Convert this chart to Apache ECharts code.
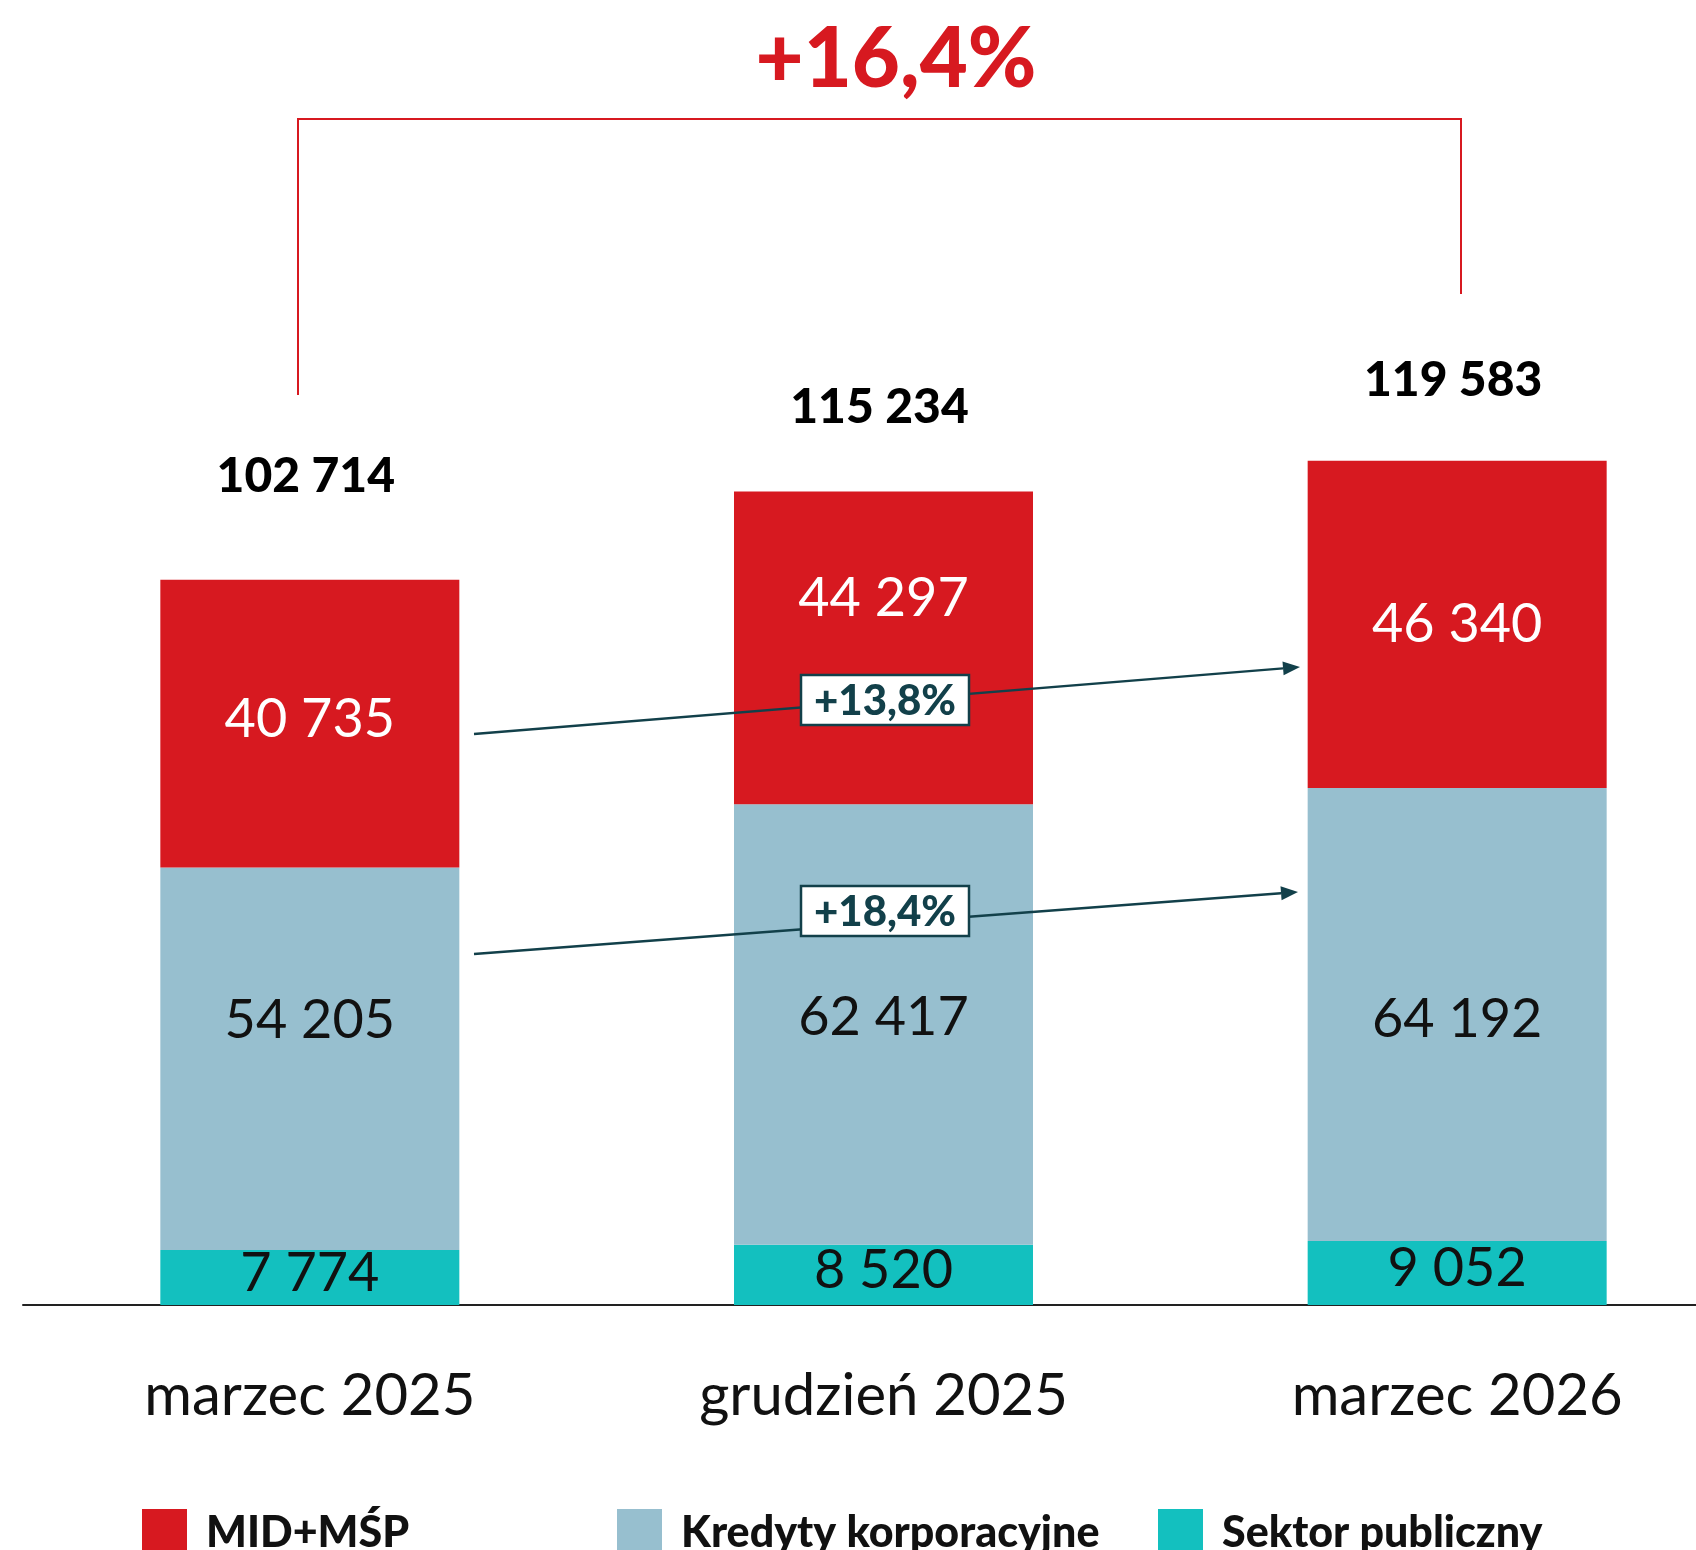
<!DOCTYPE html>
<html>
<head>
<meta charset="utf-8">
<script src="https://cdn.jsdelivr.net/npm/echarts@6/dist/echarts.min.js"></script>
<style>
  html, body { margin: 0; padding: 0; background: #fff; }
  #chart { width: 1696px; height: 1550px; }
</style>
</head>
<body>
<div id="chart"></div>
<script>
const categories = ['marzec 2025', 'grudzień 2025', 'marzec 2026']
const midMsp = [40735, 44297, 46340]
const kredytyKorp = [54205, 62417, 64192]
const sektorPubl = [7774, 8520, 9052]
const totals = [102714, 115234, 119583]
const seriesNames = ['MID+MŚP', 'Kredyty korporacyjne', 'Sektor publiczny']
const totalGrowth = '+16,4%'
const midGrowth = '+13,8%'
const korpGrowth = '+18,4%'

const RED = '#d71920'
const BLUE = '#97bfcf'
const TEAL = '#13c0bf'
const DARK = '#12404a'
const FONT = 'Lato, "Noto Sans", sans-serif'

const fmt = (n) => String(n).replace(/\B(?=(\d{3})+(?!\d))/g, ' ')

// label nudges (px) so texts sit where the original has them
const totalLift = [79, 60, 56]
const redShift = [-4, -49, 0]
const blueShift = [-38, -7, 5]

const chart = echarts.init(document.getElementById('chart'))

const arrow = (x1, y1, x2, y2) => {
  const dx = x2 - x1, dy = y2 - y1
  const len = Math.sqrt(dx * dx + dy * dy)
  const ux = dx / len, uy = dy / len
  const hl = 17, hw = 7
  const bx = x2 - ux * hl, by = y2 - uy * hl
  return [
    {
      type: 'line',
      shape: { x1, y1, x2: bx, y2: by },
      style: { stroke: DARK, lineWidth: 2.5 },
      z: 10
    },
    {
      type: 'polygon',
      shape: { points: [[x2, y2], [bx - uy * hw, by + ux * hw], [bx + uy * hw, by - ux * hw]] },
      style: { fill: DARK },
      z: 10
    }
  ]
}

const box = (cx, cy, text) => ({
  type: 'group',
  z: 20,
  children: [
    {
      type: 'rect',
      shape: { x: cx - 84, y: cy - 25, width: 168, height: 50 },
      style: { fill: '#fff', stroke: DARK, lineWidth: 2.5 },
      z: 20
    },
    {
      type: 'text',
      x: cx, y: cy + 1,
      style: { text, fill: DARK, font: `900 42px ${FONT}`, align: 'center', verticalAlign: 'middle' },
      z: 21
    }
  ]
})

const segLabel = (color) => ({
  show: true,
  position: 'inside',
  color,
  fontFamily: FONT,
  fontSize: 54,
  textBorderWidth: 0,
  formatter: (p) => fmt(p.value)
})

const option = {
  animation: false,
  backgroundColor: '#fff',
  grid: { left: 23, right: -48, top: 246, bottom: 245, outerBoundsMode: 'none', containLabel: false },
  xAxis: {
    type: 'category',
    data: categories,
    axisLine: { show: true, lineStyle: { color: '#222', width: 2 } },
    axisTick: { show: false },
    axisLabel: { color: '#111', fontFamily: FONT, fontSize: 58, margin: 62 }
  },
  yAxis: { type: 'value', min: 0, max: 150000, show: false },
  legend: seriesNames.map((name, i) => ({
    data: [name],
    left: [137, 612, 1153][i],
    top: 1504,
    icon: 'rect',
    itemWidth: 45,
    itemHeight: 48,
    selectedMode: false,
    textStyle: { fontFamily: FONT, fontSize: 43, fontWeight: 900, color: '#111', padding: [0, 0, 0, 14] }
  })),
  series: [
    {
      name: seriesNames[2],
      type: 'bar',
      stack: 'total',
      barWidth: 299,
      itemStyle: { color: TEAL },
      label: { ...segLabel('#111'), offset: [0, -4] },
      data: sektorPubl
    },
    {
      name: seriesNames[1],
      type: 'bar',
      stack: 'total',
      barWidth: 299,
      itemStyle: { color: BLUE },
      label: segLabel('#111'),
      data: kredytyKorp.map((v, i) => ({ value: v, label: { offset: [0, blueShift[i]] } }))
    },
    {
      name: seriesNames[0],
      type: 'bar',
      stack: 'total',
      barWidth: 299,
      itemStyle: { color: RED },
      label: segLabel('#fff'),
      data: midMsp.map((v, i) => ({ value: v, label: { offset: [0, redShift[i]] } }))
    },
    {
      name: 'Suma',
      type: 'line',
      symbol: 'circle',
      symbolSize: 0,
      silent: true,
      lineStyle: { width: 0, opacity: 0 },
      itemStyle: { color: '#000', opacity: 1 },
      label: {
        show: true,
        position: 'top',
        distance: 0,
        color: '#000',
        textBorderWidth: 0,
        fontFamily: FONT,
        fontSize: 48,
        fontWeight: 900,
        formatter: (p) => fmt(p.value)
      },
      data: totals.map((v, i) => ({ value: v, label: { offset: [-4, -totalLift[i]] } }))
    }
  ],
  graphic: [
    {
      type: 'polyline',
      shape: { points: [[298, 395], [298, 119], [1461, 119], [1461, 294]] },
      style: { stroke: RED, lineWidth: 2, fill: null }
    },
    {
      type: 'text',
      x: 896, y: 60,
      style: { text: totalGrowth, fill: RED, font: `900 83px ${FONT}`, align: 'center', verticalAlign: 'middle' }
    },
    ...arrow(474, 734, 1300, 667),
    ...arrow(474, 954, 1298, 892),
    box(885, 700, midGrowth),
    box(885, 911, korpGrowth)
  ]
}

chart.setOption(option)
</script>
</body>
</html>
